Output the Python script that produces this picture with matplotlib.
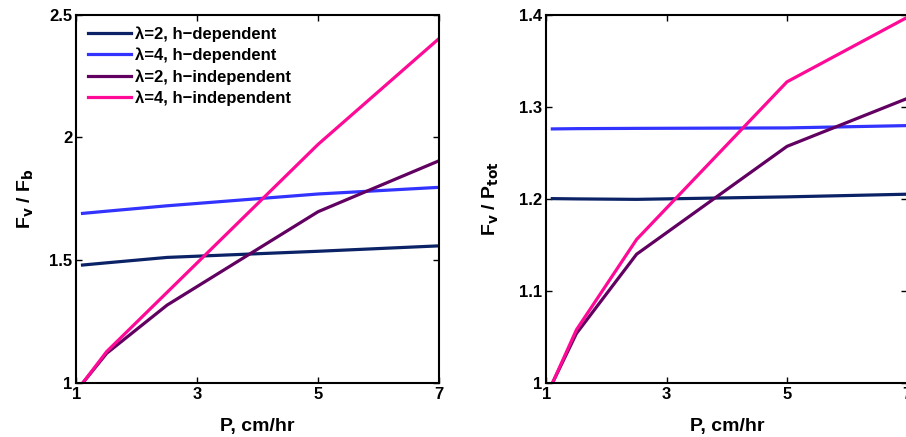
import matplotlib
matplotlib.use("Agg")
import matplotlib.pyplot as plt

# Data
P = [1.1, 1.5, 2.5, 5, 7]
labels = ["λ=2, h\u2212dependent", "λ=4, h\u2212dependent",
          "λ=2, h\u2212independent", "λ=4, h\u2212independent"]
colors = ["#0b2366", "#3333ff", "#620062", "#ff0a96"]

fvfb_l2_dep = [1.481, 1.490, 1.512, 1.537, 1.559]
fvfb_l4_dep = [1.691, 1.700, 1.722, 1.770, 1.797]
fvfb_l2_ind = [1.0, 1.122, 1.318, 1.698, 1.905]
fvfb_l4_ind = [1.0, 1.129, 1.370, 1.972, 2.402]

fvpt_l2_dep = [1.2003, 1.2000, 1.1995, 1.2022, 1.2051]
fvpt_l4_dep = [1.2759, 1.2762, 1.2765, 1.2770, 1.2795]
fvpt_l2_ind = [1.0, 1.054, 1.140, 1.257, 1.309]
fvpt_l4_ind = [1.0, 1.058, 1.156, 1.327, 1.397]

xticks = [1, 3, 5, 7]
yticks_left = [1, 1.5, 2, 2.5]
yticks_left_lbl = ["1", "1.5", "2", "2.5"]
yticks_right = [1, 1.1, 1.2, 1.3, 1.4]
yticks_right_lbl = ["1", "1.1", "1.2", "1.3", "1.4"]

plt.rcParams['font.family'] = ['Liberation Sans', 'DejaVu Sans']
plt.rcParams['font.weight'] = 'bold'
plt.rcParams['mathtext.default'] = 'regular'

fig = plt.figure(figsize=(9.06, 4.37), dpi=100)
axL = fig.add_axes([0.0844, 0.1229, 0.4001, 0.8439])
axR = fig.add_axes([0.6030, 0.1229, 0.3985, 0.8439])


def style(ax, yt, ytl, ylim):
    ax.set_xlim(1, 7)
    ax.set_ylim(*ylim)
    ax.set_xticks(xticks)
    ax.set_xticklabels([str(v) for v in xticks])
    ax.set_yticks(yt)
    ax.set_yticklabels(ytl)
    ax.tick_params(direction='in', length=4, width=1, top=True, right=True,
                   labelsize=12, pad=3)
    for lab in ax.get_xticklabels() + ax.get_yticklabels():
        lab.set_fontweight('bold')
    for s in ax.spines.values():
        s.set_linewidth(1.5)
    ax.set_xlabel("P, cm/hr", fontsize=14, fontweight='bold', labelpad=11)


seriesL = [fvfb_l2_dep, fvfb_l4_dep, fvfb_l2_ind, fvfb_l4_ind]
seriesR = [fvpt_l2_dep, fvpt_l4_dep, fvpt_l2_ind, fvpt_l4_ind]
for s, c, l in zip(seriesL, colors, labels):
    axL.plot(P, s, color=c, lw=2.3, label=l)
for s, c in zip(seriesR, colors):
    axR.plot(P, s, color=c, lw=2.3)

style(axL, yticks_left, yticks_left_lbl, (1, 2.5))
style(axR, yticks_right, yticks_right_lbl, (1, 1.4))

axL.set_ylabel(r"F$_{\mathbf{v}}$ / F$_{\mathbf{b}}$", fontsize=14,
               fontweight='bold', labelpad=10)
axR.set_ylabel(r"F$_{\mathbf{v}}$ / P$_{\mathbf{tot}}$", fontsize=14,
               fontweight='bold', labelpad=14)

leg = axL.legend(loc='upper left', frameon=False, fontsize=12,
                 handlelength=2.6, handletextpad=0.2, labelspacing=0.35,
                 borderaxespad=0.3, bbox_to_anchor=(0.0, 1.0))
for t in leg.get_texts():
    t.set_fontweight('bold')

fig.savefig("out.png", dpi=100)
